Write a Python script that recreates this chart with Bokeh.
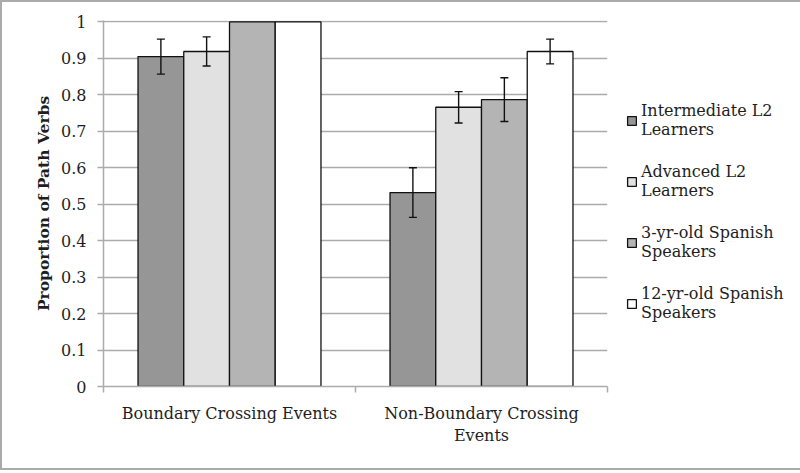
import numpy as np
from bokeh.plotting import figure
from bokeh.models import (ColumnDataSource, Range1d, FixedTicker, Whisker, TeeHead,
                          Legend, LegendItem)
from bokeh.embed import file_html
from bokeh.resources import INLINE

# ---- data ----
categories = ["Boundary Crossing Events", "Non-Boundary Crossing\nEvents"]
series = ["Intermediate L2\nLearners", "Advanced L2\nLearners",
          "3-yr-old Spanish\nSpeakers", "12-yr-old Spanish\nSpeakers"]
colors = ["#969696", "#e1e1e1", "#b4b4b4", "#ffffff"]

intermediate = [0.905, 0.532]
advanced = [0.919, 0.766]
spanish3 = [1.0, 0.787]
spanish12 = [1.0, 0.919]

intermediate_err = [0.048, 0.068]
advanced_err = [0.040, 0.043]
spanish3_err = [None, 0.060]
spanish12_err = [None, 0.034]

y_ticks = [0, 0.1, 0.2, 0.3, 0.4, 0.5, 0.6, 0.7, 0.8, 0.9, 1.0]
y_tick_labels = ["0", "0.1", "0.2", "0.3", "0.4", "0.5", "0.6", "0.7", "0.8", "0.9", "1"]

values = [intermediate, advanced, spanish3, spanish12]
errors = [intermediate_err, advanced_err, spanish3_err, spanish12_err]

FONT = "DejaVu Serif"
TXT = "#1e1e1e"
GRID = "#ababab"

p = figure(frame_width=504, frame_height=366, output_backend="svg", toolbar_location=None,
           x_range=Range1d(0, 2), y_range=Range1d(0, 1.004),
           min_border_left=101, min_border_right=173, min_border_top=18,
           min_border_bottom=82)
p.outline_line_color = None
p.background_fill_color = "white"
p.border_fill_color = "white"
p.styles = {"border": "2px solid #aaaaaa"}

bar_w = 0.1815
cat_centers = np.arange(len(categories)) + 0.5
offsets = (np.arange(len(series)) - (len(series) - 1) / 2) * bar_w

renderers = []
for i, (name, vals, col) in enumerate(zip(series, values, colors)):
    src = ColumnDataSource(dict(x=cat_centers + offsets[i], top=vals))
    r = p.vbar(x="x", top="top", bottom=0, width=bar_w, source=src,
               fill_color=col, line_color="#111111", line_width=1.3)
    renderers.append(r)

# error bars
wx, wu, wl = [], [], []
for i, (vals, errs) in enumerate(zip(values, errors)):
    for j, (v, e) in enumerate(zip(vals, errs)):
        if e is None:
            continue
        wx.append(cat_centers[j] + offsets[i])
        wu.append(v + e)
        wl.append(v - e)
wsrc = ColumnDataSource(dict(base=wx, upper=wu, lower=wl))
wh = Whisker(base="base", upper="upper", lower="lower", source=wsrc, level="annotation",
             line_color="#111111", line_width=1.4,
             upper_head=TeeHead(size=8, line_color="#111111", line_width=1.4),
             lower_head=TeeHead(size=8, line_color="#111111", line_width=1.4))
p.add_layout(wh)

# axes
p.xgrid.grid_line_color = None
p.ygrid.grid_line_color = GRID
p.ygrid.grid_line_width = 1.5
p.ygrid.ticker = FixedTicker(ticks=y_ticks)

ya = p.yaxis[0]
ya.ticker = FixedTicker(ticks=y_ticks)
ya.major_label_overrides = {t: l for t, l in zip(y_ticks, y_tick_labels)}
ya.axis_line_color = GRID
ya.axis_line_width = 1.5
ya.major_tick_line_color = GRID
ya.major_tick_line_width = 1.5
ya.major_tick_in = 0
ya.major_tick_out = 6
ya.minor_tick_line_color = None
ya.major_label_text_font = FONT
ya.major_label_text_font_size = "16px"
ya.major_label_text_color = TXT
ya.major_label_standoff = 11
ya.axis_label = "Proportion of Path Verbs"
ya.axis_label_text_font = FONT
ya.axis_label_text_font_style = "bold"
ya.axis_label_text_font_size = "15.5px"
ya.axis_label_text_color = TXT
ya.axis_label_standoff = 5

xa = p.xaxis[0]
xa.ticker = FixedTicker(ticks=list(cat_centers), minor_ticks=[0, 1, 2])
xa.major_label_overrides = {float(c): n for c, n in zip(cat_centers, categories)}
xa.axis_line_color = GRID
xa.axis_line_width = 1.5
xa.major_tick_line_color = None
xa.major_tick_in = 0
xa.major_tick_out = 0
xa.minor_tick_line_color = GRID
xa.minor_tick_line_width = 1.5
xa.minor_tick_in = 0
xa.minor_tick_out = 6
xa.major_label_text_font = FONT
xa.major_label_text_font_size = "16px"
xa.major_label_text_color = TXT
xa.major_label_standoff = 11

legend = Legend(items=[LegendItem(label=s, renderers=[r]) for s, r in zip(series, renderers)],
                location=(19, 64))
legend.border_line_color = None
legend.background_fill_alpha = 0
legend.label_text_font = FONT
legend.label_text_font_size = "16px"
legend.label_text_color = TXT
legend.label_text_line_height = 1.5
legend.glyph_width = 11
legend.glyph_height = 11
legend.label_standoff = 4
legend.spacing = 23
legend.padding = 0
legend.margin = 0
p.add_layout(legend, "right")

open("out.html", "w").write(file_html(p, INLINE))
